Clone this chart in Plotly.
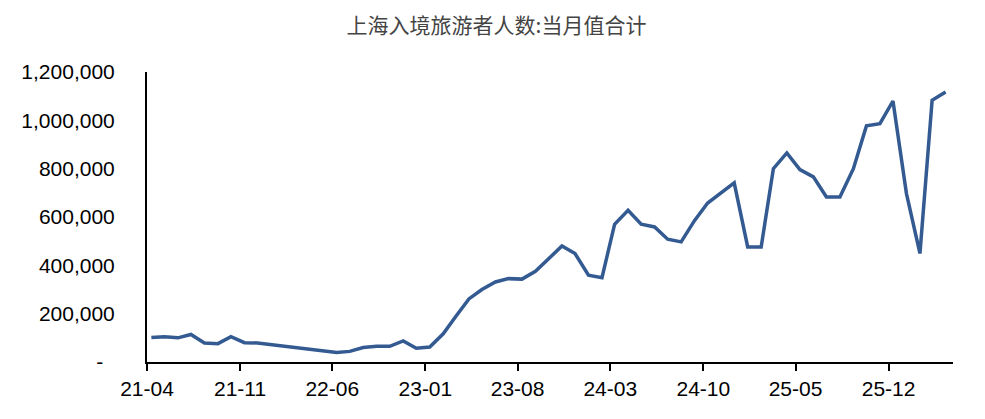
import plotly.graph_objects as go

months = [
    "2021-04", "2021-05", "2021-06", "2021-07", "2021-08", "2021-09", "2021-10", "2021-11", "2021-12",
    "2022-01", "2022-02", "2022-03", "2022-04", "2022-05", "2022-06", "2022-07", "2022-08", "2022-09",
    "2022-10", "2022-11", "2022-12", "2023-01", "2023-02", "2023-03", "2023-04", "2023-05", "2023-06",
    "2023-07", "2023-08", "2023-09", "2023-10", "2023-11", "2023-12", "2024-01", "2024-02", "2024-03",
    "2024-04", "2024-05", "2024-06", "2024-07", "2024-08", "2024-09", "2024-10", "2024-11", "2024-12",
    "2025-01", "2025-02", "2025-03", "2025-04", "2025-05", "2025-06", "2025-07", "2025-08", "2025-09",
    "2025-10", "2025-11", "2025-12", "2026-01", "2026-02", "2026-03", "2026-04",
]
visitors = [
    101000, 104000, 100000, 114000, 79000, 76000, 105000, 80000, 79000,
    72000, 66000, 60000, 53000, 46000, 39000, 44000, 60000, 65000,
    65000, 87000, 57000, 62000, 117000, 186000, 261000, 300000, 331000,
    345000, 343000, 375000, 428000, 480000, 449000, 359000, 349000, 570000,
    628000, 570000, 559000, 508000, 497000, 586000, 658000, 699000, 741000,
    476000, 476000, 800000, 865000, 796000, 766000, 683000, 683000, 800000,
    977000, 986000, 1080000, 697000, 449000, 1083000, 1117000,
]
y_tickvals = [0, 200000, 400000, 600000, 800000, 1000000, 1200000]
y_ticktext = ["-\u00a0\u00a0", "200,000", "400,000", "600,000", "800,000", "1,000,000", "1,200,000"]
title_text = "上海入境旅游者人数:当月值合计"

x_dates = [m + "-11" for m in months]

fig = go.Figure()
fig.add_trace(go.Scatter(
    x=x_dates, y=visitors, mode="lines",
    line=dict(color="#345a92", width=3.5),
    hoverinfo="x+y",
))

fig.update_layout(
    width=977, height=411,
    margin=dict(l=139, r=32, t=64, b=57, autoexpand=False),
    paper_bgcolor="white", plot_bgcolor="white",
    showlegend=False,
    title=dict(
        text=title_text, x=0.5, xanchor="center", y=0.958, yanchor="middle",
        font=dict(family="Noto Sans CJK SC", size=21, color="#444444"),
    ),
    font=dict(family="Liberation Sans, Arial", size=21, color="#000000"),
)
fig.update_xaxes(
    type="date", automargin=False,
    range=["2021-04-01", "2026-04-28"],
    tick0="2021-04-01", dtick="M7", tickformat="%y-%m",
    ticks="outside", ticklen=7, tickwidth=2, tickcolor="black",
    showline=True, linecolor="black", linewidth=2,
    showgrid=False, zeroline=False,
    tickfont=dict(family="Liberation Sans, Arial", size=21, color="black"),
)
fig.update_yaxes(
    range=[0, 1200000], automargin=False,
    tickvals=y_tickvals, ticktext=y_ticktext,
    ticks="", showline=True, linecolor="black", linewidth=2,
    showgrid=False, zeroline=False,
    ticklabelstandoff=26,
    tickfont=dict(family="Liberation Sans, Arial", size=21, color="black"),
)

fig.write_html("out.html")
